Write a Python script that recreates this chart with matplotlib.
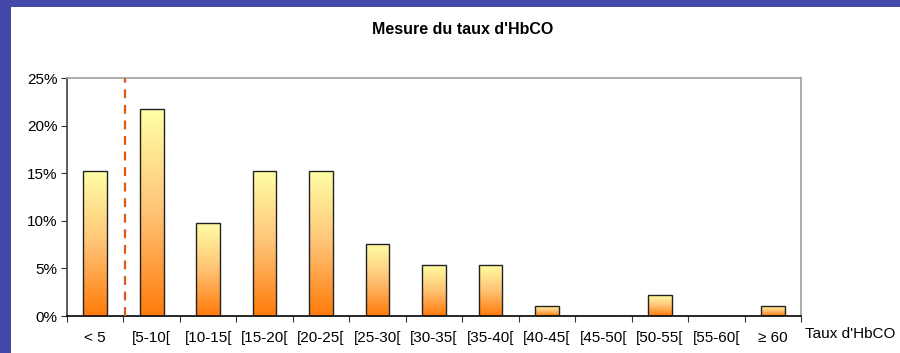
import matplotlib
matplotlib.use('Agg')
import matplotlib.pyplot as plt
import numpy as np
from matplotlib.colors import LinearSegmentedColormap
from matplotlib.patches import Rectangle
from matplotlib.ticker import PercentFormatter

plt.rcParams['font.family'] = ['Liberation Sans', 'DejaVu Sans']

# classes du taux d'HbCO et pourcentages
categories = ['< 5', '[5-10[', '[10-15[', '[15-20[', '[20-25[', '[25-30[', '[30-35[',
              '[35-40[', '[40-45[', '[45-50[', '[50-55[', '[55-60[', '\u2265 60']
percents = [15.2, 21.7, 9.8, 15.2, 15.2, 7.6, 5.4, 5.4, 1.1, 0.0, 2.2, 0.0, 1.1]

fig = plt.figure(figsize=(9, 3.53), dpi=100)
W, H = 900, 353

# cadre bleu (gauche et haut)
fig.patches.append(Rectangle((0, 0), 11 / W, 1, transform=fig.transFigure,
                             facecolor='#4448A8', edgecolor='none', zorder=0))
fig.patches.append(Rectangle((0, 1 - 7 / H), 1, 7 / H, transform=fig.transFigure,
                             facecolor='#4448A8', edgecolor='none', zorder=0))

left, right, top, bottom = 67, 801, 78, 316
ax = fig.add_axes([left / W, 1 - bottom / H, (right - left) / W, (bottom - top) / H])

n = len(categories)
x = np.arange(n)
width = 0.42

# dégradé jaune -> orange dans chaque barre
cmap = LinearSegmentedColormap.from_list('hbco', ['#FF7A0A', '#FFC375', '#FFFFA6'])
grad = np.linspace(0, 1, 256).reshape(-1, 1)
bars = ax.bar(x, percents, width=width, facecolor='none', edgecolor='#222222',
              linewidth=1.0, zorder=3)
for b, v in zip(bars, percents):
    if v <= 0:
        continue
    x0 = b.get_x()
    im = ax.imshow(grad, cmap=cmap, origin='lower', aspect='auto',
                   extent=[x0, x0 + width, 0, v], zorder=2)
    im.set_clip_path(b)

# ligne pointillée entre "< 5" et "[5-10["
ax.axvline(0.52, color='#E05A14', linestyle=(0, (4, 3)), linewidth=1.6, zorder=4)

ax.set_xlim(-0.5, n - 0.5)
ax.set_ylim(0, 25)
ax.set_yticks([0, 5, 10, 15, 20, 25])
ax.yaxis.set_major_formatter(PercentFormatter(decimals=0))
ax.set_xticks(np.arange(n + 1) - 0.5)
ax.set_xticklabels([])
ax.set_xticks(x, minor=True)
ax.set_xticklabels(categories, minor=True)
ax.tick_params(axis='x', which='minor', length=0, pad=11, labelsize=11)
ax.tick_params(axis='x', which='major', length=4, direction='out', color='#333333')
ax.tick_params(axis='y', length=4, direction='out', color='#333333', labelsize=11, pad=3)

ax.spines['top'].set_color('#A0A0A0')
ax.spines['right'].set_color('#A0A0A0')
ax.spines['left'].set_color('#404040')
ax.spines['bottom'].set_color('#000000')
for s in ax.spines.values():
    s.set_linewidth(1.2)

fig.text(463 / W, 1 - 30 / H, "Mesure du taux d'HbCO", ha='center', va='center',
         fontsize=11.5, fontweight='bold')
fig.text(805 / W, 1 - 334 / H, "Taux d'HbCO", ha='left', va='center', fontsize=11)

fig.savefig('out.png', dpi=100)
